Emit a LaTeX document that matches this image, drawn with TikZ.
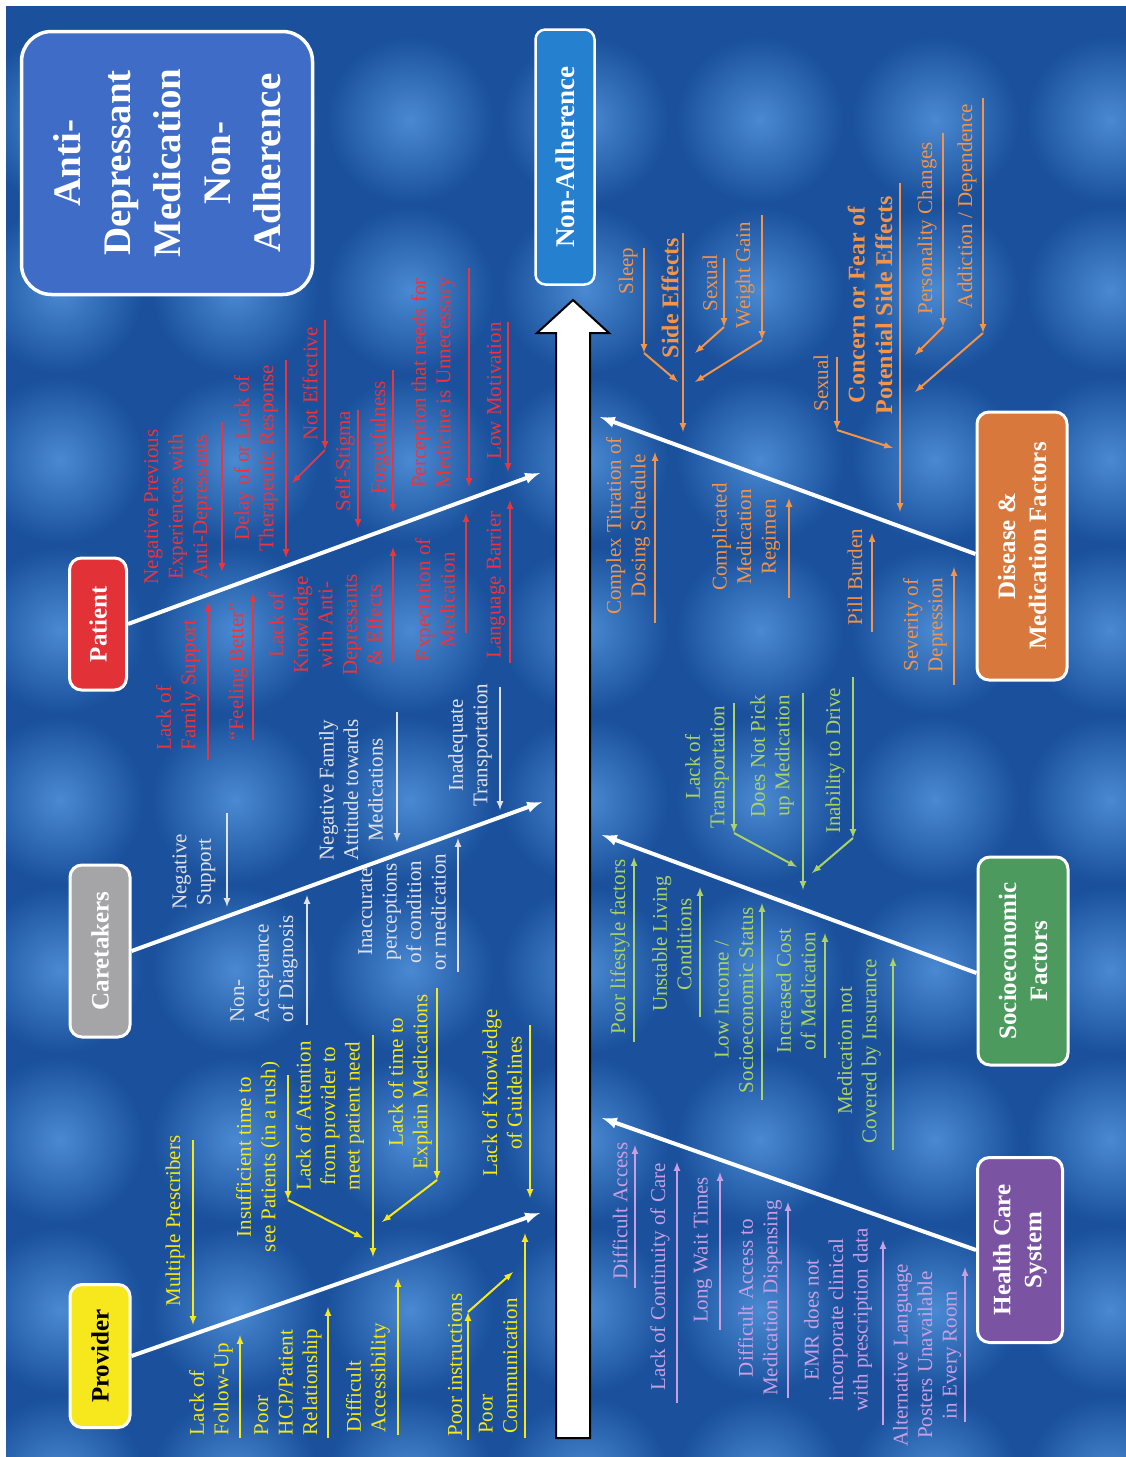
\documentclass[tikz,border=0pt]{standalone}
\usepackage{fontspec}
\setmainfont{Liberation Serif}

\definecolor{bgblue}{RGB}{26,80,156}
\definecolor{bglight}{RGB}{74,138,210}
\definecolor{titlefill}{RGB}{62,108,198}
\definecolor{efffill}{RGB}{38,128,208}
\definecolor{provcol}{RGB}{246,232,28}
\definecolor{carecol}{RGB}{225,225,232}
\definecolor{patcol}{RGB}{236,52,60}
\definecolor{hcscol}{RGB}{200,160,226}
\definecolor{soccol}{RGB}{170,210,102}
\definecolor{discol}{RGB}{242,148,74}
\definecolor{carefill}{RGB}{165,165,168}
\definecolor{patfill}{RGB}{226,50,56}
\definecolor{hcsfill}{RGB}{122,84,162}
\definecolor{socfill}{RGB}{76,154,94}
\definecolor{disfill}{RGB}{216,120,60}

\tikzset{
  lbl/.style={rotate=90, align=center, inner sep=0pt, font=\fontsize{21}{24.5}\selectfont},
  bld/.style={lbl, font=\fontsize{24}{27.5}\selectfont\bfseries},
  rib/.style={line width=2pt, -latex},
  bone/.style={white, line width=4pt, -latex},
  catbox/.style={rotate=90, draw=white, line width=3pt, rounded corners=12pt, align=center,
    inner sep=0pt, text=white, font=\fontsize{25}{31}\selectfont\bfseries},
  titlebox/.style={catbox, fill=titlefill, rounded corners=30pt, line width=3.5pt, font=\fontsize{39}{50}\selectfont\bfseries},
  effbox/.style={catbox, fill=efffill, line width=2.5pt, rounded corners=10pt, font=\fontsize{27}{30}\selectfont\bfseries}
}

\begin{document}
\begin{tikzpicture}[x=1pt, y=-1pt]
  \useasboundingbox (0,0) rectangle (1126,1457);
  \fill[white] (0,0) rectangle (1126,1457);
  \fill[bgblue] (6,6) rectangle (1126,1457);
  \begin{scope}
    \clip (6,6) rectangle (1126,1457);
    \foreach \i in {0,...,6} {
      \foreach \j in {0,...,8} {
        \shade[inner color=bglight, outer color=bgblue] (60+\i*175, 120+\j*170) circle (84pt);
      }
    }
  \end{scope}

  % spine
  \draw[black, line width=2pt, fill=white] (556,1438) -- (556,333) -- (537,333) -- (573,300)
    -- (609,333) -- (590,333) -- (590,1438) -- cycle;

  \node[titlebox, minimum width=263pt, minimum height=291pt] (title) at (167,163)
    {Anti-\\Depressant\\Medication\\Non-\\Adherence};
  \node[effbox, minimum width=255pt, minimum height=59pt] (effect) at (565,157) {Non-Adherence};

  % categories
  \node[catbox, fill=provcol, text=black, minimum width=143pt, minimum height=60pt] (prov) at (100,1356) {Provider};
  \node[catbox, fill=carefill, minimum width=172pt, minimum height=60pt] (care) at (100,951) {Caretakers};
  \node[catbox, fill=patfill, minimum width=132pt, minimum height=57pt] (pat) at (98,624) {Patient};
  \node[catbox, fill=hcsfill, minimum width=185pt, minimum height=85pt] (hcs) at (1020,1250) {Health Care\\System};
  \node[catbox, fill=socfill, minimum width=208pt, minimum height=90pt] (soc) at (1023,961) {Socioeconomic\\Factors};
  \node[catbox, fill=disfill, minimum width=268pt, minimum height=90pt] (dis) at (1022,546) {Disease \&\\Medication Factors};

  \draw[bone] (prov.south) -- (540,1213) coordinate (provend);
  \draw[bone] (care.south) -- (542,802) coordinate (careend);
  \draw[bone] (pat.south) -- (540,473) coordinate (patend);
  \draw[bone] (hcs.north) -- (602,1118) coordinate (hcsend);
  \draw[bone] ([yshift=-12pt]soc.north) -- (602,835) coordinate (socend);
  \draw[bone] ([yshift=-8pt]dis.north) -- (600,417) coordinate (disend);

  % provider
  \draw[rib, provcol] (193,1140) coordinate (pr1a) -- (193,1325) coordinate (pr1b);
  \node[lbl, text=provcol] (pr1) at (175,1221) {Multiple Prescribers};
  \draw[rib, provcol] (240,1438) coordinate (pr2a) -- (240,1335) coordinate (pr2b);
  \node[lbl, text=provcol, align=left] (pr2) at (211,1389) {Lack of\\Follow-Up};
  \draw[rib, provcol] (328,1438) coordinate (pr3a) -- (328,1307) coordinate (pr3b);
  \node[lbl, text=provcol, align=left] (pr3) at (288,1382) {Poor\\HCP/Patient\\Relationship};
  \draw[rib, provcol] (398,1435) coordinate (pr4a) -- (398,1278) coordinate (pr4b);
  \node[lbl, text=provcol, align=left] (pr4) at (368,1378) {Difficult\\Accessibility};
  \draw[rib, provcol] (468,1440) coordinate (pr5a) -- (468,1312) coordinate (pr5b);
  \draw[rib, provcol] (pr5b) -- (513,1272) coordinate (pr5c);
  \node[lbl, text=provcol] (pr5) at (455,1365) {Poor instructions};
  \draw[rib, provcol] (525,1438) coordinate (pr6a) -- (525,1233) coordinate (pr6b);
  \node[lbl, text=provcol, align=left] (pr6) at (498,1366) {Poor\\Communication};
  \draw[rib, provcol] (288,1075) coordinate (pr7a) -- (288,1200) coordinate (pr7b);
  \draw[rib, provcol] (pr7b) -- (363,1238) coordinate (pr7c);
  \node[lbl, text=provcol] (pr7) at (258,1157) {Insufficient time to\\see Patients (in a rush)};
  \draw[rib, provcol] (373,1035) coordinate (pr8a) -- (373,1257) coordinate (pr8b);
  \node[lbl, text=provcol] (pr8) at (330,1116) {Lack of Attention\\from provider to\\meet patient need};
  \draw[rib, provcol] (437,988) coordinate (pr9a) -- (437,1180) coordinate (pr9b);
  \draw[rib, provcol] (pr9b) -- (382,1222) coordinate (pr9c);
  \node[lbl, text=provcol] (pr9) at (410,1082) {Lack of time to\\Explain Medications};
  \draw[rib, provcol] (530,1025) coordinate (pr10a) -- (530,1198) coordinate (pr10b);
  \node[lbl, text=provcol] (pr10) at (502,1093) {Lack of Knowledge\\of Guidelines};

  % caretakers
  \draw[rib, carecol] (227,813) coordinate (ct1a) -- (227,907) coordinate (ct1b);
  \node[lbl, text=carecol] (ct1) at (194,872) {Negative\\Support};
  \draw[rib, carecol] (307,1025) coordinate (ct2a) -- (307,895) coordinate (ct2b);
  \node[lbl, text=carecol, align=left] (ct2) at (264,969) {Non-\\Acceptance\\of Diagnosis};
  \draw[rib, carecol] (397,712) coordinate (ct3a) -- (397,842) coordinate (ct3b);
  \node[lbl, text=carecol] (ct3) at (351,790) {Negative Family\\Attitude towards\\Medications};
  \draw[rib, carecol] (458,972) coordinate (ct4a) -- (458,838) coordinate (ct4b);
  \node[lbl, text=carecol] (ct4) at (402,912) {Inaccurate\\perceptions\\of condition\\or medication};
  \draw[rib, carecol] (500,687) coordinate (ct5a) -- (500,810) coordinate (ct5b);
  \node[lbl, text=carecol] (ct5) at (470,745) {Inadequate\\Transportation};

  % patient
  \draw[rib, patcol] (208,760) coordinate (pa1a) -- (208,602) coordinate (pa1b);
  \node[lbl, text=patcol, align=left] (pa1) at (178,685) {Lack of\\Family Support};
  \draw[rib, patcol] (253,740) coordinate (pa2a) -- (253,593) coordinate (pa2b);
  \node[lbl, text=patcol] (pa2) at (238,671) {``Feeling Better''};
  \draw[rib, patcol] (393,662) coordinate (pa3a) -- (393,547) coordinate (pa3b);
  \node[lbl, text=patcol] (pa3) at (325,625) {Lack of\\Knowledge\\with Anti-\\Depressants\\\& Effects};
  \draw[rib, patcol] (466,633) coordinate (pa4a) -- (466,513) coordinate (pa4b);
  \node[lbl, text=patcol] (pa4) at (435,600) {Expectation of\\Medication};
  \draw[rib, patcol] (510,663) coordinate (pa5a) -- (510,500) coordinate (pa5b);
  \node[lbl, text=patcol] (pa5) at (496,585) {Language Barrier};
  \draw[rib, patcol] (222,422) coordinate (pa6a) -- (222,572) coordinate (pa6b);
  \node[lbl, text=patcol] (pa6) at (178,507) {Negative Previous\\Experiences with\\Anti-Depressants};
  \draw[rib, patcol] (286,360) coordinate (pa7a) -- (286,558) coordinate (pa7b);
  \node[lbl, text=patcol] (pa7) at (256,458) {Delay of or Lack of\\Therapeutic Response};
  \draw[rib, patcol] (325,320) coordinate (pa8a) -- (325,450) coordinate (pa8b);
  \draw[rib, patcol] (pa8b) -- (292,483) coordinate (pa8c);
  \node[lbl, text=patcol] (pa8) at (310,384) {Not Effective};
  \draw[rib, patcol] (358,410) coordinate (pa9a) -- (358,528) coordinate (pa9b);
  \node[lbl, text=patcol] (pa9) at (345,461) {Self-Stigma};
  \draw[rib, patcol] (393,370) coordinate (pa10a) -- (393,513) coordinate (pa10b);
  \node[lbl, text=patcol] (pa10) at (380,438) {Forgetfulness};
  \draw[rib, patcol] (469,268) coordinate (pa11a) -- (469,487) coordinate (pa11b);
  \node[lbl, text=patcol] (pa11) at (433,383) {Perception that needs for\\Medicine is Unnecessary};
  \draw[rib, patcol] (508,322) coordinate (pa12a) -- (508,472) coordinate (pa12b);
  \node[lbl, text=patcol] (pa12) at (494,391) {Low Motivation};

  % health care system
  \draw[rib, hcscol] (635,1288) coordinate (hc1a) -- (635,1145) coordinate (hc1b);
  \node[lbl, text=hcscol] (hc1) at (620,1211) {Difficult Access};
  \draw[rib, hcscol] (677,1403) coordinate (hc2a) -- (677,1162) coordinate (hc2b);
  \node[lbl, text=hcscol] (hc2) at (660,1277) {Lack of Continuity of Care};
  \draw[rib, hcscol] (720,1330) coordinate (hc3a) -- (720,1172) coordinate (hc3b);
  \node[lbl, text=hcscol] (hc3) at (703,1250) {Long Wait Times};
  \draw[rib, hcscol] (788,1398) coordinate (hc4a) -- (788,1202) coordinate (hc4b);
  \node[lbl, text=hcscol] (hc4) at (760,1298) {Difficult Access to\\Medication Dispensing};
  \draw[rib, hcscol] (883,1425) coordinate (hc5a) -- (883,1240) coordinate (hc5b);
  \node[lbl, text=hcscol] (hc5) at (838,1320) {EMR does not\\incorporate clinical\\with prescription data};
  \draw[rib, hcscol] (965,1422) coordinate (hc6a) -- (965,1267) coordinate (hc6b);
  \node[lbl, text=hcscol] (hc6) at (927,1355) {Alternative Language\\Posters Unavailable\\in Every Room};

  % socioeconomic
  \draw[rib, soccol] (634,1042) coordinate (so1a) -- (634,857) coordinate (so1b);
  \node[lbl, text=soccol] (so1) at (620,947) {Poor lifestyle factors};
  \draw[rib, soccol] (700,1017) coordinate (so2a) -- (700,887) coordinate (so2b);
  \node[lbl, text=soccol] (so2) at (672,944) {Unstable Living\\Conditions};
  \draw[rib, soccol] (762,1100) coordinate (so3a) -- (762,903) coordinate (so3b);
  \node[lbl, text=soccol] (so3) at (734,1000) {Low Income /\\Socioeconomic Status};
  \draw[rib, soccol] (825,1058) coordinate (so4a) -- (825,933) coordinate (so4b);
  \node[lbl, text=soccol] (so4) at (796,991) {Increased Cost\\of Medication};
  \draw[rib, soccol] (893,1150) coordinate (so5a) -- (893,957) coordinate (so5b);
  \node[lbl, text=soccol] (so5) at (859,1051) {Medication not\\Covered by Insurance};
  \draw[rib, soccol] (734,703) coordinate (so6a) -- (734,833) coordinate (so6b);
  \draw[rib, soccol] (so6b) -- (797,867) coordinate (so6c);
  \node[lbl, text=soccol] (so6) at (707,767) {Lack of\\Transportation};
  \draw[rib, soccol] (803,693) coordinate (so7a) -- (803,890) coordinate (so7b);
  \node[lbl, text=soccol] (so7) at (772,756) {Does Not Pick\\up Medication};
  \draw[rib, soccol] (853,677) coordinate (so8a) -- (853,838) coordinate (so8b);
  \draw[rib, soccol] (so8b) -- (812,873) coordinate (so8c);
  \node[lbl, text=soccol] (so8) at (835,761) {Inability to Drive};

  % disease and medication
  \draw[rib, discol] (655,623) coordinate (di1a) -- (655,452) coordinate (di1b);
  \node[lbl, text=discol] (di1) at (628,526) {Complex Titration of\\Dosing Schedule};
  \draw[rib, discol] (789,598) coordinate (di2a) -- (789,498) coordinate (di2b);
  \node[lbl, text=discol] (di2) at (746,537) {Complicated\\Medication\\Regimen};
  \draw[rib, discol] (872,632) coordinate (di3a) -- (872,533) coordinate (di3b);
  \node[lbl, text=discol] (di3) at (855,577) {Pill Burden};
  \draw[rib, discol] (954,685) coordinate (di4a) -- (954,567) coordinate (di4b);
  \node[lbl, text=discol] (di4) at (925,625) {Severity of\\Depression};
  \draw[rib, discol] (683,233) coordinate (di5a) -- (683,432) coordinate (di5b);
  \node[bld, text=discol] (di5) at (670,298) {Side Effects};
  \draw[rib, discol] (644,248) coordinate (di6a) -- (644,353) coordinate (di6b);
  \draw[rib, discol] (di6b) -- (678,382) coordinate (di6c);
  \node[lbl, text=discol] (di6) at (628,271) {Sleep};
  \draw[rib, discol] (724,258) coordinate (di7a) -- (724,327) coordinate (di7b);
  \draw[rib, discol] (di7b) -- (695,353) coordinate (di7c);
  \node[lbl, text=discol] (di7) at (710,283) {Sexual};
  \draw[rib, discol] (762,215) coordinate (di8a) -- (762,340) coordinate (di8b);
  \draw[rib, discol] (di8b) -- (695,382) coordinate (di8c);
  \node[lbl, text=discol] (di8) at (745,275) {Weight Gain};
  \draw[rib, discol] (837,357) coordinate (di9a) -- (837,430) coordinate (di9b);
  \draw[rib, discol] (di9b) -- (893,448) coordinate (di9c);
  \node[lbl, text=discol] (di9) at (821,383) {Sexual};
  \draw[rib, discol] (900,183) coordinate (di10a) -- (900,512) coordinate (di10b);
  \node[bld, text=discol] (di10) at (870,305) {Concern or Fear of\\Potential Side Effects};
  \draw[rib, discol] (943,133) coordinate (di11a) -- (943,327) coordinate (di11b);
  \draw[rib, discol] (di11b) -- (915,355) coordinate (di11c);
  \node[lbl, text=discol] (di11) at (927,228) {Personality Changes};
  \draw[rib, discol] (983,98) coordinate (di12a) -- (983,333) coordinate (di12b);
  \draw[rib, discol] (di12b) -- (915,392) coordinate (di12c);
  \node[lbl, text=discol] (di12) at (967,206) {Addiction / Dependence};
\end{tikzpicture}
\end{document}
